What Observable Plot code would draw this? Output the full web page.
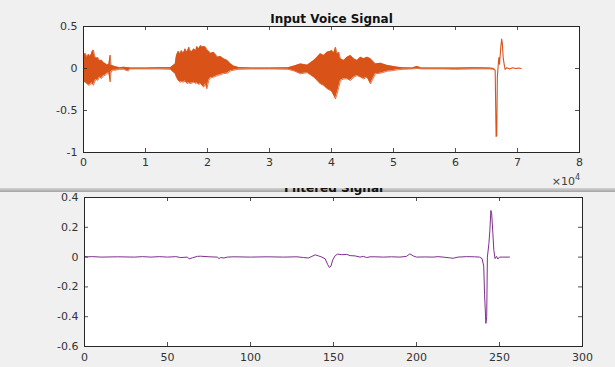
<!DOCTYPE html>
<html><head><meta charset="utf-8">
<script src="https://cdn.jsdelivr.net/npm/d3@7"></script>
<script src="https://cdn.jsdelivr.net/npm/@observablehq/plot@0.6"></script>
<style>
body{margin:0;background:#f0f0f0;}
#wrap{position:relative;width:615px;height:367px;overflow:hidden;background:#f0f0f0;font-family:"DejaVu Sans",sans-serif;}
#top{position:absolute;left:0;top:0;width:615px;height:188px;overflow:hidden;background:#f0f0f0;z-index:2}
#bottom{position:absolute;left:0;top:186px;width:615px;height:181px;overflow:hidden;background:#f0f0f0;z-index:1}
#band{position:absolute;left:0;top:2px;width:615px;height:4px;background:linear-gradient(#d4d4d4,#a4a4a4)}
#bottom svg{position:absolute;left:0;top:-26px}
#top svg{position:absolute;left:0;top:0}
#exp{position:absolute;right:35px;top:175px;font-size:11px;color:#404040;font-family:"DejaVu Sans",sans-serif;}
#exp sup{font-size:8px;vertical-align:5px;line-height:0}
</style></head>
<body>
<div id="wrap">
  <div id="top"><span id="exp">×10<sup>4</sup></span></div>
  <div id="bottom"><div id="band"></div></div>
</div>
<script>
// ---- Top chart: Input Voice Signal (x in units of 10^4 samples) ----
const topXTicks = [0,1,2,3,4,5,6,7,8];
const topYTicks = [-1,-0.5,0,0.5];
// envelope (upper / lower peaks) of the dense voice waveform
const envX  = [0.00,0.03,0.06,0.08,0.11,0.14,0.16,0.18,0.20,0.23,0.26,0.29,0.32,0.35,0.38,0.41,0.43,0.445,0.48,0.52,0.58,0.65,0.72,0.76,1.00,1.20,1.40,
               1.48,1.50,1.53,1.56,1.58,1.61,1.64,1.67,1.70,1.72,1.75,1.78,1.81,1.83,1.86,1.89,1.91,1.94,1.97,1.99,2.02,2.05,2.10,2.13,2.16,2.21,2.26,2.32,2.37,2.42,2.50,2.70,3.00,3.30,3.40,
               3.50,3.61,3.715,3.77,3.82,3.876,3.93,3.984,4.01,4.038,4.065,4.09,4.118,4.145,4.199,4.253,4.306,4.36,4.414,4.468,4.52,4.575,4.63,4.656,4.71,4.79,4.90,5.00,5.06,5.15,5.30,5.38,5.45,5.80,6.00,6.30,6.55,6.62];
const envHi = [0.16,0.18,0.13,0.17,0.14,0.20,0.22,0.15,0.12,0.13,0.09,0.10,0.07,0.06,0.04,0.05,0.16,0.04,0.03,0.02,0.01,0.015,0.01,0.005,0.005,0.01,0.01,
               0.055,0.155,0.206,0.17,0.214,0.18,0.234,0.19,0.254,0.21,0.20,0.234,0.21,0.262,0.234,0.274,0.254,0.262,0.254,0.222,0.206,0.18,0.194,0.167,0.135,0.143,0.115,0.095,0.056,0.03,0.012,0.006,0.005,0.01,0.03,
               0.055,0.04,0.095,0.135,0.175,0.155,0.194,0.206,0.214,0.183,0.254,0.175,0.194,0.115,0.095,0.135,0.155,0.115,0.095,0.135,0.115,0.135,0.115,0.095,0.055,0.063,0.036,0.024,0.016,0.01,0.005,0.024,0.005,0.005,0.005,0.01,0.005,0.0];
const envLo = [-0.14,-0.17,-0.18,-0.20,-0.19,-0.17,-0.20,-0.16,-0.13,-0.14,-0.10,-0.12,-0.09,-0.08,-0.06,-0.05,-0.16,-0.04,-0.02,-0.02,-0.01,-0.01,-0.03,-0.005,-0.005,-0.005,-0.01,
               -0.063,-0.103,-0.143,-0.163,-0.155,-0.163,-0.15,-0.18,-0.17,-0.18,-0.172,-0.163,-0.18,-0.17,-0.19,-0.178,-0.2,-0.222,-0.18,-0.242,-0.143,-0.11,-0.103,-0.095,-0.083,-0.075,-0.06,-0.056,-0.03,-0.02,-0.01,-0.006,-0.005,-0.01,-0.03,
               -0.063,-0.05,-0.103,-0.143,-0.183,-0.202,-0.242,-0.262,-0.282,-0.321,-0.361,-0.302,-0.222,-0.143,-0.123,-0.123,-0.143,-0.103,-0.083,-0.103,-0.123,-0.103,-0.183,-0.143,-0.063,-0.056,-0.032,-0.024,-0.016,-0.01,-0.005,0.0,-0.005,-0.005,-0.01,-0.005,-0.005,-0.01];
// the click/spike at the end
const spikeX = [6.62,6.64,6.655,6.665,6.675,6.69,6.70,6.71,6.73,6.745,6.755,6.77,6.79,6.80,6.83,6.87,6.92,6.97,7.02,7.06];
const spikeY = [-0.01,-0.02,-0.81,-0.80,-0.10,0.05,0.13,0.05,0.25,0.35,0.30,0.12,0.03,-0.01,0.01,-0.005,0.01,0.0,0.005,0.0];

// ---- Bottom chart: Filtered Signal ----
const botXTicks = [0,50,100,150,200,250,300];
const botYTicks = [-0.6,-0.4,-0.2,0,0.2,0.4];
const filtX = [0,2,5,10,20,30,35,40,45,50,55,58,62,63,65,68,70,75,80,81,82,84,86,90,100,110,120,128,132,135,137,139,141,143,145,146.5,147.5,148.5,149.5,151,152.5,155,158,160,163,166,168,170,172,175,180,185,190,194,196,198,200,205,210,213,216,220,222,225,230,235,238,239.5,240.5,241,241.8,242.3,242.7,243.6,244.2,244.8,245.3,246,246.6,247.3,248.2,249,250,252,256];
const filtY = [0.003,0.002,0.003,0,0.002,0,0.003,0,0.003,0,0.003,-0.003,0,-0.012,-0.005,0.005,0.006,0.002,0,-0.01,-0.003,-0.006,0,0.002,0,0.002,0,0.002,-0.003,-0.006,0.005,0.015,0.008,0,-0.012,-0.05,-0.07,-0.06,-0.02,0.01,0.02,0.016,0.018,0.01,0.008,0,0.005,-0.003,0.002,0.002,0,0.002,0,0.005,0.022,0.008,0,0.001,0,0.003,0,-0.005,-0.008,0,0.003,0.002,0,-0.01,-0.06,-0.25,-0.445,-0.40,0.0,0.09,0.18,0.313,0.29,0.16,0.045,-0.01,0.005,-0.013,0,0,0];

const orange = "#D95319", purple = "#7E2F8E", axisCol = "#262626", textCol = "#333333";
const env = envX.map((x,i)=>({x, hi:envHi[i], lo:envLo[i]}));
const spike = spikeX.map((x,i)=>({x, y:spikeY[i]}));
const filt = filtX.map((x,i)=>({x, y:filtY[i]}));
const fmt = d => String(d);

function frameMarks(xt, yt, H, W){
  return [
    Plot.ruleX(xt, {x:d=>d, insetTop:H-4, stroke:axisCol, strokeWidth:0.8}),
    Plot.ruleX(xt, {x:d=>d, insetBottom:H-4, stroke:axisCol, strokeWidth:0.8}),
    Plot.ruleY(yt, {y:d=>d, insetRight:W-4, stroke:axisCol, strokeWidth:0.8}),
    Plot.ruleY(yt, {y:d=>d, insetLeft:W-4, stroke:axisCol, strokeWidth:0.8}),
    Plot.frame({stroke:axisCol, strokeWidth:1})
  ];
}

const tH = 188, tMT = 26, tMB = 36, tML = 83, tMR = 36;
const topPlot = Plot.plot({
  width:615, height:tH, marginLeft:tML, marginRight:tMR, marginTop:tMT, marginBottom:tMB,
  style:{background:"transparent", fontFamily:"DejaVu Sans, sans-serif", fontSize:"11px", color:textCol, overflow:"visible"},
  x:{domain:[0,8]},
  y:{domain:[-1,0.5]},
  marks:[
    Plot.frame({fill:"white", stroke:"none"}),
    Plot.areaY(env, {x:"x", y1:"lo", y2:"hi", fill:orange}),
    Plot.line(env, {x:"x", y:"hi", stroke:orange, strokeWidth:0.8}),
    Plot.line(env, {x:"x", y:"lo", stroke:orange, strokeWidth:0.8}),
    Plot.line(spike, {x:"x", y:"y", stroke:orange, strokeWidth:1.1}),
    ...frameMarks(topXTicks, topYTicks, tH-tMT-tMB, 615-tML-tMR),
    Plot.axisX(topXTicks, {tickSize:0, tickPadding:6, tickFormat:fmt, fill:textCol, label:null}),
    Plot.axisY(topYTicks, {tickSize:0, tickPadding:6, tickFormat:fmt, fill:textCol, label:null}),
    Plot.text(["Input Voice Signal"], {frameAnchor:"top", lineAnchor:"bottom", dy:-4, fontWeight:"bold", fontSize:12, fill:"#111"})
  ]
});
document.getElementById("top").appendChild(topPlot);

const bH = 207, bMT = 37, bMB = 21, bML = 84, bMR = 33;
const botPlot = Plot.plot({
  width:615, height:bH, marginLeft:bML, marginRight:bMR, marginTop:bMT, marginBottom:bMB,
  style:{background:"transparent", fontFamily:"DejaVu Sans, sans-serif", fontSize:"11px", color:textCol, overflow:"visible"},
  x:{domain:[0,300]},
  y:{domain:[-0.6,0.4]},
  marks:[
    Plot.frame({fill:"white", stroke:"none"}),
    Plot.line(filt, {x:"x", y:"y", stroke:purple, strokeWidth:1}),
    ...frameMarks(botXTicks, botYTicks, bH-bMT-bMB, 615-bML-bMR),
    Plot.axisX(botXTicks, {tickSize:0, tickPadding:7, tickFormat:fmt, fill:textCol, label:null}),
    Plot.axisY(botYTicks, {tickSize:0, tickPadding:6, tickFormat:fmt, fill:textCol, label:null}),
    Plot.text(["Filtered Signal"], {frameAnchor:"top", lineAnchor:"bottom", dy:-6, fontWeight:"bold", fontSize:12, fill:"#111"})
  ]
});
document.getElementById("bottom").appendChild(botPlot);
</script>
</body></html>
